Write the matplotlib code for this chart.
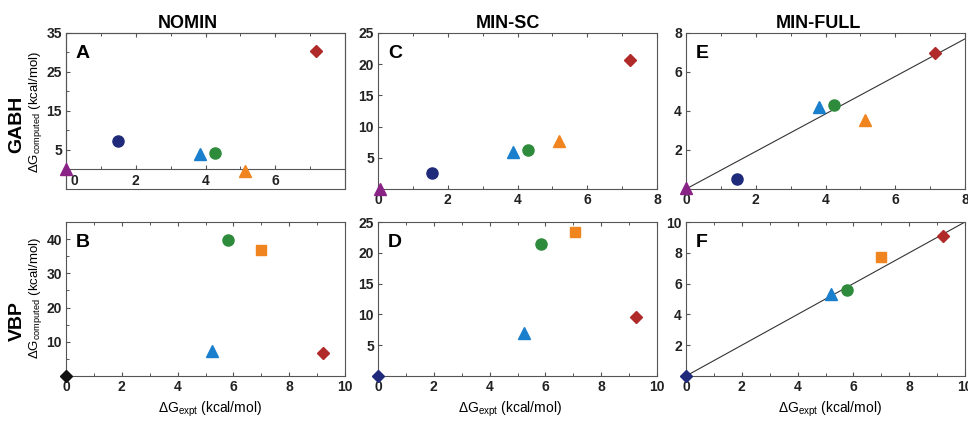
import matplotlib
matplotlib.use("Agg")
import matplotlib.pyplot as plt
from matplotlib.patches import Rectangle
from matplotlib.ticker import MultipleLocator, FixedLocator
from matplotlib.transforms import ScaledTranslation

plt.rcParams['font.family'] = ['Liberation Sans', 'DejaVu Sans']
plt.rcParams['mathtext.fontset'] = 'custom'
plt.rcParams['mathtext.rm'] = 'Liberation Sans'
plt.rcParams['mathtext.it'] = 'Liberation Sans'

# marker colours / shapes per compound
PURPLE = '#8a2386'
NAVY = '#1f2a7a'
BLUE = '#1a7fcc'
GREEN = '#2e8b3c'
ORANGE = '#f0841e'
RED = '#b02a2a'
BLACK = '#111111'

# GABH row: purple tri, navy circle, blue tri, green circle, orange tri, red diamond
gabh_markers = ['^', 'o', '^', 'o', '^', 'D']
gabh_colors = [PURPLE, NAVY, BLUE, GREEN, ORANGE, RED]
gabh_expt = [0.0, 1.5, 3.85, 4.28, 5.13, 7.17]
gabh_nomin = [0.0, 7.4, 4.0, 4.2, -0.5, 30.4]
gabh_expt_sc = [0.05, 1.55, 3.87, 4.3, 5.2, 7.22]
gabh_minsc = [0.0, 2.6, 6.0, 6.2, 7.7, 20.7]
gabh_expt_full = [0.0, 1.47, 3.82, 4.23, 5.12, 7.15]
gabh_minfull = [0.05, 0.5, 4.2, 4.3, 3.55, 6.95]

# VBP row: diamond at origin, blue tri, green circle, orange square, red diamond
vbp_markers = ['D', '^', 'o', 's', 'D']
vbp_colors_b = [BLACK, BLUE, GREEN, ORANGE, RED]
vbp_colors = [NAVY, BLUE, GREEN, ORANGE, RED]
vbp_expt = [0.0, 5.22, 5.8, 7.0, 9.2]
vbp_nomin = [0.0, 7.2, 39.6, 36.8, 6.6]
vbp_expt_sc = [0.0, 5.25, 5.83, 7.05, 9.25]
vbp_minsc = [0.0, 7.0, 21.5, 23.3, 9.5]
vbp_expt_full = [0.0, 5.2, 5.77, 7.0, 9.2]
vbp_minfull = [0.0, 5.3, 5.6, 7.7, 9.1]

# fit lines in MIN-FULL panels
fit_e_x = [0, 8]
fit_e_y = [0, 7.7]
fit_f_x = [0, 10]
fit_f_y = [0, 10]

fig = plt.figure(figsize=(9.68, 4.21), dpi=100)

W = 968.0
H = 421.0
lefts = [66, 378, 686]
width = 279
rows = [(33, 189), (222, 376)]


def make_ax(col, row):
    top, bot = rows[row]
    return fig.add_axes([lefts[col] / W, 1 - bot / H, width / W, (bot - top) / H])


def draw(ax, xs, ys, markers, colors):
    for x, y, m, c in zip(xs, ys, markers, colors):
        size = 8 if m == 'o' else (8.5 if m == '^' else (7 if m == 's' else 6.5))
        ax.plot(x, y, marker=m, color=c, ms=size, mec=c, ls='none', clip_on=False, zorder=5)


def style(ax, letter):
    for s in ax.spines.values():
        s.set_linewidth(0.8)
        s.set_color('#555555')
    ax.tick_params(direction='in', length=3, width=0.8, labelsize=10, pad=3,
                   top=True, right=False, colors='#555555', labelcolor='#222222')
    ax.tick_params(which='minor', direction='in', length=2, width=0.7, top=True,
                   colors='#555555')
    for lab in ax.get_xticklabels() + ax.get_yticklabels():
        lab.set_fontweight('bold')
    ax.text(0.035, 0.87, letter, transform=ax.transAxes, fontsize=14,
            fontweight='bold', ha='left', va='center')


# ---- A: NOMIN / GABH
ax = make_ax(0, 0)
draw(ax, gabh_expt, gabh_nomin, gabh_markers, gabh_colors)
ax.set_xlim(0, 8)
ax.set_ylim(-5, 35)
ax.spines['bottom'].set_position(('data', 0))
ax.spines['bottom'].set_color('#333333')
ax.add_patch(Rectangle((0, 0), 1, 1, transform=ax.transAxes, fill=False,
                       lw=0.8, ec='#555555', clip_on=False))
ax.xaxis.set_major_locator(FixedLocator([0, 2, 4, 6]))
ax.xaxis.set_minor_locator(MultipleLocator(1))
ax.yaxis.set_major_locator(FixedLocator([5, 15, 25, 35]))
ax.yaxis.set_minor_locator(FixedLocator([10, 20, 30]))
style(ax, 'A')
# the "0" label sits a little right of the y axis, clear of the marker
zero_lab = ax.xaxis.get_major_ticks()[0].label1
zero_lab.set_transform(zero_lab.get_transform() + ScaledTranslation(6 / 72, 0, fig.dpi_scale_trans))

# ---- C: MIN-SC / GABH
ax = make_ax(1, 0)
draw(ax, gabh_expt_sc, gabh_minsc, gabh_markers, gabh_colors)
ax.set_xlim(0, 8)
ax.set_ylim(0, 25)
ax.xaxis.set_major_locator(MultipleLocator(2))
ax.xaxis.set_minor_locator(MultipleLocator(1))
ax.yaxis.set_major_locator(FixedLocator([5, 10, 15, 20, 25]))
style(ax, 'C')

# ---- E: MIN-FULL / GABH
ax = make_ax(2, 0)
ax.plot(fit_e_x, fit_e_y, color='#333333', lw=0.8, zorder=2)
draw(ax, gabh_expt_full, gabh_minfull, gabh_markers, gabh_colors)
ax.set_xlim(0, 8)
ax.set_ylim(0, 8)
ax.xaxis.set_major_locator(MultipleLocator(2))
ax.xaxis.set_minor_locator(MultipleLocator(1))
ax.yaxis.set_major_locator(FixedLocator([2, 4, 6, 8]))
style(ax, 'E')

# ---- B: NOMIN / VBP
ax = make_ax(0, 1)
draw(ax, vbp_expt, vbp_nomin, vbp_markers, vbp_colors_b)
ax.set_xlim(0, 10)
ax.set_ylim(0, 45)
ax.spines['bottom'].set_linewidth(1.6)
ax.spines['bottom'].set_color('#111111')
ax.xaxis.set_major_locator(MultipleLocator(2))
ax.xaxis.set_minor_locator(MultipleLocator(1))
ax.yaxis.set_major_locator(FixedLocator([10, 20, 30, 40]))
ax.yaxis.set_minor_locator(FixedLocator([5, 15, 25, 35]))
style(ax, 'B')

# ---- D: MIN-SC / VBP
ax = make_ax(1, 1)
draw(ax, vbp_expt_sc, vbp_minsc, vbp_markers, vbp_colors)
ax.set_xlim(0, 10)
ax.set_ylim(0, 25)
ax.xaxis.set_major_locator(MultipleLocator(2))
ax.xaxis.set_minor_locator(MultipleLocator(1))
ax.yaxis.set_major_locator(FixedLocator([5, 10, 15, 20, 25]))
style(ax, 'D')

# ---- F: MIN-FULL / VBP
ax = make_ax(2, 1)
ax.plot(fit_f_x, fit_f_y, color='#333333', lw=0.8, zorder=2)
draw(ax, vbp_expt_full, vbp_minfull, vbp_markers, vbp_colors)
ax.set_xlim(0, 10)
ax.set_ylim(0, 10)
ax.xaxis.set_major_locator(MultipleLocator(2))
ax.xaxis.set_minor_locator(MultipleLocator(1))
ax.yaxis.set_major_locator(FixedLocator([2, 4, 6, 8, 10]))
style(ax, 'F')

# column titles
for cx, title in zip([188, 508, 818], ['NOMIN', 'MIN-SC', 'MIN-FULL']):
    fig.text(cx / W, 1 - 23 / H, title, fontsize=13, fontweight='bold',
             ha='center', va='center')

# row labels
fig.text(17 / W, 1 - 124 / H, 'GABH', fontsize=14, fontweight='bold',
         rotation=90, ha='center', va='center')
fig.text(17 / W, 1 - 321 / H, 'VBP', fontsize=14, fontweight='bold',
         rotation=90, ha='center', va='center')

# y labels
ylab = r'$\Delta G_{\mathrm{computed}}$ (kcal/mol)'
fig.text(35 / W, 1 - 112 / H, ylab, fontsize=9.5, rotation=90, ha='center', va='center')
fig.text(35 / W, 1 - 298 / H, ylab, fontsize=9.5, rotation=90, ha='center', va='center')

# x labels
xlab = r'$\Delta G_{\mathrm{expt}}$ (kcal/mol)'
for cx in [210, 510, 830]:
    fig.text(cx / W, 1 - 409 / H, xlab, fontsize=10, ha='center', va='center')

fig.savefig('out.png', dpi=100)
